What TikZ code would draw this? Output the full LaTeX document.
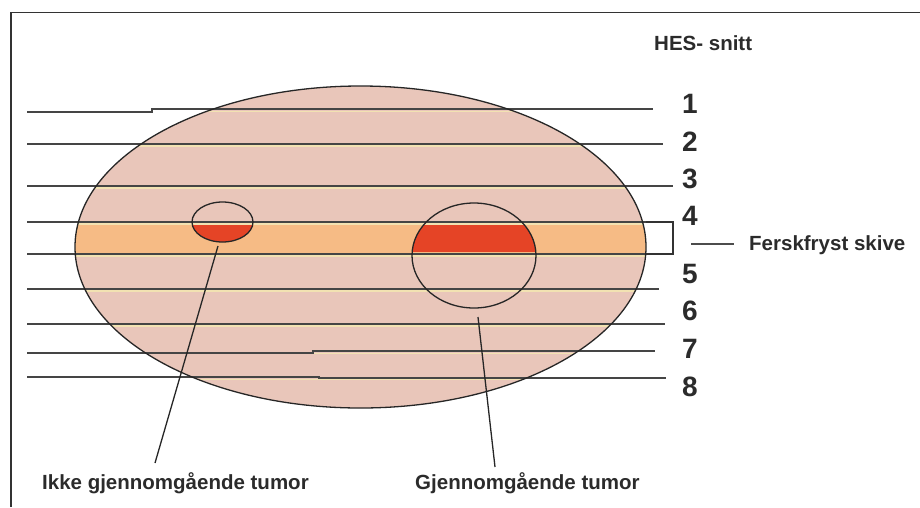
\documentclass[tikz,border=0pt]{standalone}
\usepackage{fontspec}
\setmainfont{Liberation Sans}
\definecolor{tissue}{HTML}{E9C6BA}
\definecolor{bandc}{HTML}{F6BB85}
\definecolor{tumorred}{HTML}{E54426}
\definecolor{linegray}{HTML}{454545}
\definecolor{cream}{HTML}{F2E2B2}
\definecolor{txt}{HTML}{2B2B2B}
\begin{document}
\begin{tikzpicture}[x=1pt,y=-1pt,
  cut/.style={line width=1.9pt, draw=linegray},
  hilite/.style={line width=1.5pt, draw=cream},
  outline/.style={line width=1.3pt, draw=black!85},
  brk/.style={line width=1.2pt, draw=black!80},
  ptr/.style={line width=1.3pt, draw=black!85},
  lbl/.style={inner sep=0pt, text=txt, font=\fontsize{20.5}{24}\selectfont\bfseries},
  num/.style={inner sep=0pt, text=txt, anchor=base, font=\fontsize{28}{32}\selectfont\bfseries}]
\useasboundingbox (0,0) rectangle (920,507);
% frame
\draw[line width=1.5pt, draw=black!80] (11,507) -- (11,12.7) -- (920,12.7);
% specimen
\coordinate (E) at (360.5,247);
\fill[tissue] (E) ellipse [x radius=285.5, y radius=161];
\begin{scope}
  \clip (E) ellipse [x radius=285.5, y radius=161];
  \fill[bandc] (0,222) rectangle (920,254);
  \begin{scope}
    \clip (222.5,222) ellipse [x radius=30.5, y radius=20];
    \fill[tumorred] (150,223) rectangle (300,260);
  \end{scope}
  \begin{scope}
    \clip (474,255.5) ellipse [x radius=62, y radius=52.5];
    \fill[tumorred] (400,223) rectangle (560,251.5);
  \end{scope}
  \foreach \yy in {111.5,146.2,188.2,224.2,256.2,291.2,326.2,353.5,379.5}
    \draw[hilite] (0,\yy) -- (920,\yy);
\end{scope}
% section lines
\draw[cut] (27,111.7) -- (152,111.7) -- (152,109.3) -- (653,109.3);
\draw[cut] (27,144) -- (663,144);
\draw[cut] (27,186) -- (673,186);
\draw[cut] (27,222) -- (646,222);
\draw[cut] (27,254) -- (646,254);
\draw[cut] (27,289) -- (659,289);
\draw[cut] (27,324) -- (665,324);
\draw[cut] (27,353.3) -- (313,353.3) -- (313,351.3) -- (655,351.3);
\draw[cut] (27,377.3) -- (319,377.3) -- (319,378.3) -- (666,378.3);
% outlines
\draw[outline] (222.5,222) ellipse [x radius=30.5, y radius=20];
\draw[outline] (474,255.5) ellipse [x radius=62, y radius=52.5];
\draw[outline] (E) ellipse [x radius=285.5, y radius=161];
% bracket
\draw[brk] (646,222) -- (673,222) -- (673,254) -- (646,254);
% labels
\node[lbl, anchor=base west] (hes) at (654,50) {HES- snitt};
\node[num] (n1) at (690,113.3) {1};
\node[num] (n2) at (690,151.7) {2};
\node[num] (n3) at (690,188.3) {3};
\node[num] (n4) at (690,225) {4};
\node[num] (n5) at (690,283.3) {5};
\node[num] (n6) at (690,320) {6};
\node[num] (n7) at (690,358.3) {7};
\node[num] (n8) at (690,396) {8};
\node[lbl, anchor=base west] (fersk) at (749,250) {Ferskfryst skive};
\coordinate (f0) at (691,244);
\coordinate (f1) at (734,244);
\draw[line width=1.3pt, draw=black!70] (f0) -- (f1);
\node[lbl, anchor=base west] (ikke) at (42,489) {Ikke gjennomgående tumor};
\node[lbl, anchor=base west] (gjen) at (415,489) {Gjennomgående tumor};
\coordinate (p1) at (218,246);
\coordinate (p1e) at (155,463);
\coordinate (p2) at (478,317);
\coordinate (p2e) at (495,467);
\draw[ptr] (p1) -- (p1e);
\draw[ptr] (p2) -- (p2e);
\end{tikzpicture}
\end{document}
